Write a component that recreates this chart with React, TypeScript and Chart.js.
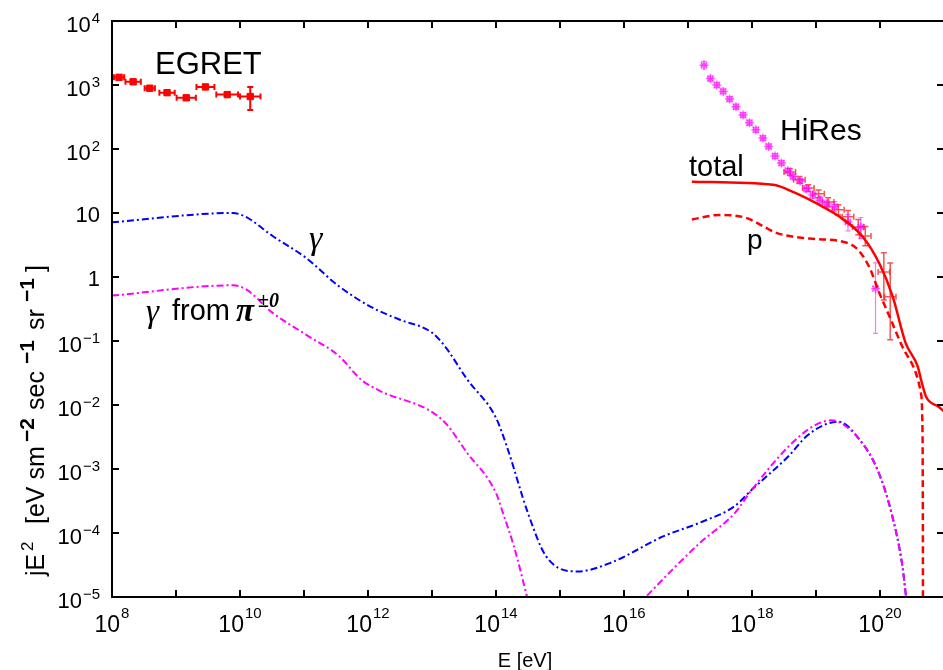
import React, { useEffect, useRef } from "react";
import { Chart, registerables } from "chart.js";

Chart.register(...registerables);

// All values as log10(E [eV]) and log10(jE^2)
const gammaLogE = [8.0, 9.886, 10.09, 10.51, 11.03, 11.54, 12.07, 12.48, 13.0, 13.2, 13.55, 14.0, 14.17, 14.5, 14.78, 15.28, 15.78, 16.62, 17.18, 17.73, 18.0, 18.57, 18.85, 19.13, 19.35, 19.68, 19.96, 20.18, 20.35, 20.45];
const gammaLogJ = [0.855, 1.0, 0.94, 0.64, 0.30, -0.14, -0.48, -0.66, -0.87, -1.08, -1.6, -2.2, -2.65, -3.69, -4.36, -4.6, -4.47, -4.05, -3.84, -3.58, -3.32, -2.8, -2.49, -2.31, -2.26, -2.54, -3.01, -3.69, -4.52, -5.4];

const gammaPiLowLogE = [8.0, 9.886, 10.09, 10.51, 11.03, 11.54, 11.9, 12.17, 13.16, 13.55, 14.0, 14.11, 14.28, 14.47, 14.6];
const gammaPiLowLogJ = [-0.29, -0.13, -0.19, -0.56, -0.9, -1.23, -1.61, -1.77, -2.23, -2.75, -3.375, -3.69, -4.21, -4.94, -5.5];
const gammaPiHighLogE = [16.2, 16.34, 17.18, 17.73, 18.0, 18.57, 18.96, 19.24, 19.35, 19.68, 19.96, 20.18, 20.35, 20.45];
const gammaPiHighLogJ = [-5.15, -5.0, -4.16, -3.69, -3.32, -2.65, -2.33, -2.24, -2.26, -2.54, -3.01, -3.69, -4.52, -5.4];

const totalLogE = [17.06, 18.33, 18.64, 19.01, 19.37, 19.73, 19.99, 20.2, 20.4, 20.59, 20.65, 20.72, 20.92, 21.0];
const totalLogJ = [1.49, 1.44, 1.33, 1.15, 0.94, 0.63, 0.21, -0.31, -1.03, -1.4, -1.64, -1.87, -2.03, -2.1];

const protonLogE = [17.06, 17.5, 17.92, 18.18, 18.38, 18.9, 19.42, 19.63, 19.83, 19.99, 20.15, 20.35, 20.56, 20.64, 20.66, 20.67, 20.672];
const protonLogJ = [0.9, 0.97, 0.92, 0.79, 0.69, 0.6, 0.55, 0.45, 0.16, -0.25, -0.62, -1.09, -1.5, -1.82, -2.18, -4.0, -6.0];

const egretLogE = [8.11, 8.33, 8.59, 8.86, 9.16, 9.46, 9.8, 10.16];
const egretLogJ = [3.12, 3.05, 2.95, 2.88, 2.8, 2.97, 2.85, 2.82];
const egretErrE = [0.08, 0.12, 0.08, 0.12, 0.15, 0.14, 0.17, 0.16];
const egretErrUp = [0.03, 0.03, 0.03, 0.03, 0.03, 0.03, 0.03, 0.15];
const egretErrDown = [0.03, 0.03, 0.03, 0.03, 0.03, 0.03, 0.03, 0.21];

const hiresLogE = [17.25, 17.35, 17.45, 17.55, 17.65, 17.75, 17.86, 17.96, 18.06, 18.17, 18.26, 18.36, 18.46, 18.56, 18.64, 18.75, 18.85, 18.95, 19.06, 19.17, 19.29, 19.5, 19.7, 19.93];
const hiresLogJ = [3.31, 3.1, 3.0, 2.9, 2.78, 2.66, 2.53, 2.41, 2.3, 2.17, 2.04, 1.89, 1.78, 1.66, 1.57, 1.5, 1.38, 1.28, 1.2, 1.14, 1.1, 0.86, 0.78, -0.18];
const hiresErrUp = [0.06, 0.04, 0.04, 0.04, 0.04, 0.04, 0.04, 0.04, 0.04, 0.04, 0.04, 0.04, 0.04, 0.04, 0.04, 0.04, 0.05, 0.05, 0.06, 0.06, 0.08, 0.12, 0.15, 0.4];
const hiresErrDown = [0.06, 0.04, 0.04, 0.04, 0.04, 0.04, 0.04, 0.04, 0.04, 0.04, 0.04, 0.04, 0.04, 0.04, 0.04, 0.04, 0.05, 0.05, 0.06, 0.06, 0.08, 0.14, 0.18, 0.7];

const agasaLogE = [18.59, 18.74, 18.88, 19.04, 19.19, 19.35, 19.5, 19.66, 19.77, 20.06, 20.16];
const agasaLogJ = [1.64, 1.52, 1.39, 1.3, 1.17, 1.05, 0.94, 0.78, 0.64, 0.08, -0.31];
const agasaErrUp = [0.05, 0.05, 0.05, 0.06, 0.07, 0.08, 0.1, 0.12, 0.15, 0.3, 0.53];
const agasaErrDown = [0.05, 0.05, 0.05, 0.06, 0.07, 0.08, 0.1, 0.12, 0.15, 0.44, 0.67];

const xTickExps = [8, 9, 10, 11, 12, 13, 14, 15, 16, 17, 18, 19, 20];
const xLabelExps = [8, 10, 12, 14, 16, 18, 20];
const yTickExps = [-5, -4, -3, -2, -1, 0, 1, 2, 3, 4];

const SANS = "'Liberation Sans', Arial, sans-serif";
const SERIF = "'Liberation Serif', 'DejaVu Serif', serif";

const toPts = (xs: number[], ys: number[]) => xs.map((e, i) => ({ x: Math.pow(10, e), y: Math.pow(10, ys[i]) }));

function drawErrors(chart: any, logE: number[], logJ: number[], errE: number[] | number, up: number[], down: number[], color: string, width: number, cap: number) {
  const { ctx, scales } = chart;
  const sx = scales.x, sy = scales.y;
  ctx.save();
  ctx.strokeStyle = color;
  ctx.lineWidth = width;
  logE.forEach((e, i) => {
    const j = logJ[i];
    const de = Array.isArray(errE) ? errE[i] : errE;
    const px = sx.getPixelForValue(Math.pow(10, e));
    const py = sy.getPixelForValue(Math.pow(10, j));
    const xl = sx.getPixelForValue(Math.pow(10, e - de));
    const xr = sx.getPixelForValue(Math.pow(10, e + de));
    const yt = sy.getPixelForValue(Math.pow(10, j + up[i]));
    const yb = sy.getPixelForValue(Math.pow(10, j - down[i]));
    ctx.beginPath();
    ctx.moveTo(xl, py); ctx.lineTo(xr, py);
    ctx.moveTo(xl, py - cap); ctx.lineTo(xl, py + cap);
    ctx.moveTo(xr, py - cap); ctx.lineTo(xr, py + cap);
    ctx.moveTo(px, yt); ctx.lineTo(px, yb);
    ctx.moveTo(px - cap, yt); ctx.lineTo(px + cap, yt);
    ctx.moveTo(px - cap, yb); ctx.lineTo(px + cap, yb);
    ctx.stroke();
  });
  ctx.restore();
}

function supText(exp: number) {
  return exp < 0 ? "\u2212" + String(-exp) : String(exp);
}

const decorPlugin = {
  id: "decor",
  beforeDatasetsDraw(chart: any) {
    const { ctx, chartArea: a } = chart;
    ctx.save();
    ctx.beginPath();
    ctx.rect(a.left, a.top, a.right - a.left, a.bottom - a.top);
    ctx.clip();
    drawErrors(chart, egretLogE, egretLogJ, egretErrE, egretErrUp, egretErrDown, "#ff0000", 2, 3);
    drawErrors(chart, agasaLogE, agasaLogJ, 0.09, agasaErrUp, agasaErrDown, "rgba(245,40,40,0.8)", 1.5, 3);
    drawErrors(chart, hiresLogE, hiresLogJ, 0.04, hiresErrUp, hiresErrDown, "rgba(255,0,255,0.55)", 1.2, 2.5);
    ctx.restore();
  },
  afterDraw(chart: any) {
    const { ctx, chartArea: a, scales } = chart;
    const sx = scales.x, sy = scales.y;
    ctx.save();
    // frame
    ctx.strokeStyle = "#000";
    ctx.lineWidth = 2;
    ctx.strokeRect(a.left, a.top, a.right - a.left, a.bottom - a.top);
    ctx.beginPath();
    xTickExps.forEach((e) => {
      const px = Math.round(sx.getPixelForValue(Math.pow(10, e)));
      ctx.moveTo(px, a.bottom); ctx.lineTo(px, a.bottom - 7);
      ctx.moveTo(px, a.top); ctx.lineTo(px, a.top + 7);
    });
    yTickExps.forEach((e) => {
      const py = Math.round(sy.getPixelForValue(Math.pow(10, e)));
      ctx.moveTo(a.left, py); ctx.lineTo(a.left + 7, py);
      ctx.moveTo(a.right, py); ctx.lineTo(a.right - 7, py);
    });
    ctx.stroke();

    ctx.fillStyle = "#000";
    ctx.textAlign = "left";
    ctx.textBaseline = "alphabetic";
    // x tick labels
    xLabelExps.forEach((e) => {
      const px = sx.getPixelForValue(Math.pow(10, e));
      const sup = supText(e);
      ctx.font = `23px ${SANS}`;
      const bw = ctx.measureText("10").width;
      ctx.font = `15px ${SANS}`;
      const sw = ctx.measureText(sup).width;
      const start = px - (bw + 1 + sw) / 2;
      ctx.font = `23px ${SANS}`;
      ctx.fillText("10", start, a.bottom + 35);
      ctx.font = `15px ${SANS}`;
      ctx.fillText(sup, start + bw + 1, a.bottom + 21);
    });
    // y tick labels
    const rightEdge = a.left - 12;
    yTickExps.forEach((e) => {
      const py = sy.getPixelForValue(Math.pow(10, e));
      if (e === 0 || e === 1) {
        ctx.font = `22px ${SANS}`;
        const t = e === 0 ? "1" : "10";
        const w = ctx.measureText(t).width;
        ctx.fillText(t, rightEdge - w, py + 9);
        return;
      }
      const sup = supText(e);
      ctx.font = `22px ${SANS}`;
      const bw = ctx.measureText("10").width;
      ctx.font = `15px ${SANS}`;
      const sw = ctx.measureText(sup).width;
      const start = rightEdge - (bw + 1 + sw);
      ctx.font = `22px ${SANS}`;
      ctx.fillText("10", start, py + 10.5);
      ctx.font = `15px ${SANS}`;
      ctx.fillText(sup, start + bw + 1, py + 2);
    });

    // axis titles
    ctx.font = `20px ${SANS}`;
    const xt = "E [eV]";
    const xtw = ctx.measureText(xt).width;
    ctx.fillText(xt, 525 - xtw / 2, 667);

    ctx.save();
    ctx.translate(44, 576);
    ctx.rotate(-Math.PI / 2);
    // [text, font, raise, offset along the axis]
    const frags: [string, string, number, number][] = [
      ["jE", `25px ${SANS}`, 0, 0],
      ["2", `17px ${SANS}`, 11, 25],
      ["[eV sm", `25px ${SANS}`, 0, 52],
      ["\u22122", `bold 21px ${SANS}`, 10, 134],
      ["sec", `25px ${SANS}`, 0, 166],
      ["\u22121", `bold 21px ${SANS}`, 10, 212],
      ["sr", `25px ${SANS}`, 0, 246],
      ["\u22121", `bold 21px ${SANS}`, 10, 274],
      ["]", `25px ${SANS}`, 0, 304],
    ];
    frags.forEach(([t, f, r, off]) => {
      ctx.font = f;
      ctx.fillText(t, off, -r);
    });
    ctx.restore();

    // annotations
    ctx.font = `31px ${SANS}`;
    ctx.fillText("EGRET", 155, 74);
    ctx.font = `30px ${SANS}`;
    ctx.fillText("HiRes", 780, 140);
    ctx.font = `29px ${SANS}`;
    ctx.fillText("total", 689, 176);
    ctx.font = `28px ${SANS}`;
    ctx.fillText("p", 747, 249);
    ctx.font = `italic 34px ${SERIF}`;
    ctx.fillText("\u03b3", 309, 249);
    ctx.font = `italic 33px ${SERIF}`;
    ctx.fillText("\u03b3", 146, 322);
    ctx.font = `29px ${SANS}`;
    ctx.fillText("from", 172, 320);
    ctx.font = `bold italic 33px ${SERIF}`;
    ctx.fillText("\u03c0", 236, 321);
    ctx.font = `bold italic 20px ${SERIF}`;
    ctx.fillText("\u00b10", 258, 307);
    ctx.restore();
  },
};

export default function App() {
  const ref = useRef<HTMLCanvasElement | null>(null);
  useEffect(() => {
    if (!ref.current) return;
    const dashDot = [7, 3, 2, 3];
    const chart = new Chart(ref.current, {
      type: "scatter",
      data: {
        datasets: [
          {
            data: toPts(gammaPiLowLogE, gammaPiLowLogJ),
            showLine: true, borderColor: "#ff00ff", borderWidth: 2, borderDash: dashDot,
            pointRadius: 0, cubicInterpolationMode: "monotone", clip: 0,
          },
          {
            data: toPts(gammaPiHighLogE, gammaPiHighLogJ),
            showLine: true, borderColor: "#ff00ff", borderWidth: 2, borderDash: dashDot,
            pointRadius: 0, cubicInterpolationMode: "monotone", clip: 0,
          },
          {
            data: toPts(gammaLogE, gammaLogJ),
            showLine: true, borderColor: "#0000ff", borderWidth: 2, borderDash: dashDot,
            pointRadius: 0, cubicInterpolationMode: "monotone", clip: 0,
          },
          {
            data: toPts(protonLogE, protonLogJ),
            showLine: true, borderColor: "#ff0000", borderWidth: 2.5, borderDash: [7, 4],
            pointRadius: 0, cubicInterpolationMode: "monotone", clip: 0,
          },
          {
            data: toPts(totalLogE, totalLogJ),
            showLine: true, borderColor: "#ff0000", borderWidth: 2.5,
            pointRadius: 0, cubicInterpolationMode: "monotone", clip: 0,
          },
          {
            data: toPts(egretLogE, egretLogJ),
            showLine: false, pointStyle: "rect", pointRadius: 4.5,
            backgroundColor: "#ff0000", borderColor: "#ff0000", borderWidth: 1, clip: 0,
          },
          {
            data: toPts(hiresLogE, hiresLogJ),
            showLine: false, pointStyle: "star", pointRadius: 4.5,
            backgroundColor: "rgba(255,0,255,0.6)", borderColor: "rgba(255,0,255,0.6)", borderWidth: 1.5, clip: 0,
          },
        ],
      },
      options: {
        animation: false,
        responsive: false,
        devicePixelRatio: 1,
        layout: { padding: { left: 112, top: 21, right: 2, bottom: 73 } },
        scales: {
          x: { type: "logarithmic", min: 1e8, max: 1e21, display: false },
          y: { type: "logarithmic", min: 1e-5, max: 1e4, display: false },
        },
        plugins: { legend: { display: false }, tooltip: { enabled: false } },
        events: [],
      },
      plugins: [decorPlugin],
    } as any);
    return () => chart.destroy();
  }, []);
  return (
    <div style={{ position: "absolute", left: 0, top: 0, width: 943, height: 670, overflow: "hidden", background: "#fff" }}>
      <canvas ref={ref} width={950} height={670} style={{ display: "block", width: 950, height: 670 }} />
    </div>
  );
}
